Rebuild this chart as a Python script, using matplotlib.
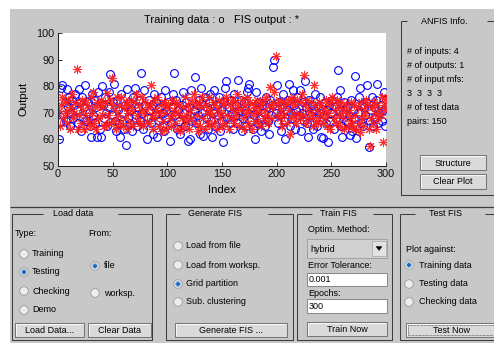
import matplotlib
matplotlib.use("Agg")
import matplotlib.pyplot as plt
from matplotlib.patches import Rectangle, Circle, Polygon
import numpy as np

plt.rcParams['font.family'] = ['Liberation Sans', 'DejaVu Sans']

# ---------------- data ----------------
training_data = [
    60, 66.5, 79.5, 80.5, 69, 74, 67, 79, 72, 76, 65, 70, 75, 68, 73, 77, 71, 66, 79, 74,
    63, 76, 68, 72, 80.3, 67, 74, 70, 65, 61, 77, 69, 75, 66, 72, 61, 78, 64, 61, 80,
    73, 68, 76, 70, 65, 72, 78, 84.5, 69, 74, 81, 67, 63, 75, 71, 66, 61, 77, 70, 64,
    73, 58, 79, 68, 74, 66, 71, 63, 76, 79.5, 69, 65, 72, 75, 67, 85, 70, 64, 78.5, 73,
    60.3, 68, 75, 71, 66, 73, 62, 77, 69, 74, 61, 67, 72, 76, 65, 70, 63, 78.5, 71, 68,
    74, 59.4, 66, 72, 77, 85, 69, 75, 64, 71, 67, 62, 73, 78, 70, 65, 74, 68, 59.4, 72,
    60, 78.7, 67, 71, 83.5, 66, 73, 69, 75, 62, 79.5, 70, 61.3, 76, 68, 72, 64, 74, 77, 67,
    61, 70, 78.5, 65, 73, 69, 76, 63, 71, 67, 59, 74, 79.5, 82, 68, 72, 66, 75, 70, 64,
    77, 69, 73, 66, 82.5, 71, 75, 63, 68, 74, 70, 65, 78, 79.5, 80.7, 67, 72, 64, 69, 60.3,
    77.8, 71, 66, 74, 68, 63, 73, 70, 65, 76, 72, 67, 62, 75, 69, 73, 87.2, 89.7, 70, 80.3,
    66, 74, 69, 63, 72, 77, 67, 60.3, 71, 75, 81, 65, 70, 68, 78.4, 73, 64, 71, 76, 69,
    78.7, 63, 70, 74, 67, 82, 72, 66, 61, 75, 69, 73, 64, 71, 77, 68, 65, 72, 70, 76,
    61, 60.4, 69, 74, 66, 71, 59, 73, 67, 70, 75, 64, 72, 68, 76, 86, 71, 78.5, 65, 61,
    70, 74, 67, 72, 66, 69, 61.5, 75, 63, 71, 68, 83.7, 60.7, 70, 76, 79.5, 66, 73, 65, 72,
    69, 74, 80.3, 57.1, 67, 71, 76, 65, 72, 68, 75, 80.7, 66, 70, 73, 67, 71, 77.8, 65, 75.3,
]
fis_output = [
    70.5, 65, 73, 76, 68, 74, 70, 66, 75, 71, 64, 72, 77, 68, 70, 74, 86.6, 64, 69, 73,
    66, 75, 71, 64, 69, 74, 67, 72, 65, 76, 70, 78, 66, 72, 64, 74, 68, 73, 75, 69,
    72, 65, 74, 65.5, 77.5, 69, 66, 75, 83, 73, 67, 71, 64, 76, 69, 73, 66, 76, 65, 72,
    68, 74, 64, 70, 73, 66, 75, 71, 65, 74, 77, 69, 67, 73, 66, 71, 76, 65, 70, 74,
    67, 72, 66, 73, 80.5, 69, 64, 75, 68, 71, 76, 65, 70, 73, 63, 67, 74, 70, 64, 72,
    73, 68, 65, 75, 69, 71, 66, 74, 64, 70, 73, 63, 68, 72, 65, 76, 69, 67, 73, 64,
    71, 68, 75, 77, 66, 73, 69, 63, 74, 65, 72, 76, 68, 64, 73, 70, 66, 76, 71, 65,
    69, 74, 66, 73, 64, 71, 75, 68, 70, 65, 73, 74, 66, 76, 69, 64, 73, 68, 75, 71,
    66, 74, 69, 77, 72, 65, 71, 75, 68, 64, 73, 70, 76, 66, 71, 74, 64, 69, 73, 67,
    71, 75, 66, 70, 73, 65, 74, 68, 71, 76, 69, 66, 73, 79.7, 68, 72, 74, 78, 91.4, 69,
    73, 75, 68, 71, 65, 74, 69, 73, 66, 75, 71, 62, 68, 74, 76, 69, 73, 66, 75, 70,
    68, 74, 77, 69, 84.2, 73, 66, 75, 71, 68, 74, 69, 65, 80.3, 73, 67, 71, 66, 74, 69,
    73, 66, 71, 68, 75, 65, 70, 73, 64, 74, 76, 68, 71, 66, 75, 73, 69, 65, 74, 71,
    68, 64, 73, 70, 65, 71, 68, 74, 66, 64, 73, 69, 64, 72, 66, 62.8, 74, 68, 65, 71,
    69, 75, 73, 64, 57.5, 68, 72, 66, 74, 70, 64, 73, 68, 71, 69, 76, 59, 73, 71, 75.3,
]
index = np.arange(1, len(training_data) + 1)

x_ticks = [0, 50, 100, 150, 200, 250, 300]
y_ticks = [50, 60, 70, 80, 90, 100]
title_text = "Training data : o   FIS output : *"
x_label = "Index"
y_label = "Output"
info_lines = ["# of inputs: 4", "# of outputs: 1", "# of input mfs:",
              "3  3  3  3", "# of test data", "pairs: 150"]

# ---------------- figure / GUI background ----------------
W, H = 494, 343
fig = plt.figure(figsize=(W / 100, H / 100), dpi=100, facecolor='white')
bg = fig.add_axes([0, 0, 1, 1])
bg.set_xlim(0, W)
bg.set_ylim(H, 0)
bg.axis('off')

GRAY = '#c8c8c8'
DARK = '#3c3c3c'
FS = 6.5
bg.add_patch(Rectangle((10, 9), W - 10, H - 9, facecolor=GRAY, edgecolor='none'))


def line(xs, ys, color=DARK, lw=0.75):
    bg.plot(xs, ys, color=color, lw=lw, solid_capstyle='butt')


def frame(x0, y0, x1, y1, g0, g1, title, tx):
    line([x0, x0, x1, x1], [y0, y1, y1, y0])
    line([x0, g0], [y0, y0])
    line([g1, x1], [y0, y0])
    bg.text(tx, y0, title, ha='center', va='center', fontsize=FS)


def button(x0, y0, x1, y1, label, focus=False):
    bg.add_patch(Rectangle((x0, y0), x1 - x0, y1 - y0, facecolor='#dadada',
                           edgecolor='#777777', lw=0.75))
    line([x0 + 1, x0 + 1, x1 - 1], [y1 - 1, y0 + 1, y0 + 1], color='white', lw=0.6)
    if focus:
        bg.add_patch(Rectangle((x0 + 2, y0 + 2), x1 - x0 - 4, y1 - y0 - 4,
                               facecolor='none', edgecolor='#333333', lw=0.5,
                               linestyle=(0, (1, 1))))
    bg.text((x0 + x1) / 2, (y0 + y1) / 2 + 0.5, label, ha='center', va='center', fontsize=FS)


def radio(cx, cy, label, selected=False, lx=8):
    bg.add_patch(Circle((cx, cy), 4.3, facecolor='#ededed', edgecolor='#9a9a9a', lw=0.6))
    if selected:
        bg.add_patch(Circle((cx, cy), 2.3, facecolor='#1e64b4', edgecolor='#80b4e6', lw=0.7))
    bg.text(cx + lx, cy, label, ha='left', va='center', fontsize=FS)


def editbox(x0, y0, x1, y1, text):
    bg.add_patch(Rectangle((x0, y0), x1 - x0, y1 - y0, facecolor='white',
                           edgecolor='#8a8a8a', lw=0.75))
    bg.text(x0 + 2, (y0 + y1) / 2 + 0.5, text, ha='left', va='center', fontsize=FS)


# separator line
line([10, W], [207, 207], lw=0.9)

# ANFIS info panel
frame(401, 21, 496, 195, 407, 487, "ANFIS Info.", 444)
for i, t in enumerate(info_lines):
    bg.text(407, 52 + 13.8 * i, t, ha='left', va='center', fontsize=6.5)
button(420, 155, 486, 170, "Structure")
button(420, 174, 486, 189, "Clear Plot")

# Load data panel
frame(12, 214, 152, 340, 43, 118, "Load data", 73)
bg.text(15, 233, "Type:", ha='left', va='center', fontsize=FS)
bg.text(88, 233, "From:", ha='left', va='center', fontsize=FS)
radio(24, 254, "Training")
radio(24, 272, "Testing", selected=True)
radio(24, 291, "Checking")
radio(24, 310, "Demo")
radio(95, 266, "file", selected=True, lx=9)
radio(95, 293, "worksp.", lx=9)
button(15, 323, 84, 337, "Load Data...")
button(88, 323, 151, 337, "Clear Data")

# Generate FIS panel
frame(166, 214, 293, 340, 180, 268, "Generate FIS", 215)
radio(178, 246, "Load from file")
radio(178, 265, "Load from worksp.")
radio(178, 284, "Grid partition", selected=True)
radio(178, 302, "Sub. clustering")
button(175, 323, 287, 337, "Generate FIS ...")

# Train FIS panel
frame(297, 214, 392, 340, 312, 373, "Train FIS", 338)
bg.text(308, 229, "Optim. Method:", ha='left', va='center', fontsize=FS)
bg.add_patch(Rectangle((307, 239), 80, 19, facecolor='#d0d0d0', edgecolor='#9a9a9a', lw=0.6))
bg.add_patch(Rectangle((372, 241), 14, 15, facecolor='#e2e2e2', edgecolor='#a8a8a8', lw=0.5))
bg.add_patch(Polygon([[376, 246.5], [382, 246.5], [379, 250.5]], closed=True,
                     facecolor='black', edgecolor='black', lw=0.3))
bg.text(310, 249, "hybrid", ha='left', va='center', fontsize=FS)
bg.text(308, 265, "Error Tolerance:", ha='left', va='center', fontsize=FS)
editbox(307, 273, 387, 286, "0.001")
bg.text(308, 294, "Epochs:", ha='left', va='center', fontsize=FS)
editbox(307, 299, 387, 313, "300")
button(307, 322, 387, 336, "Train Now")

# Test FIS panel
frame(400, 214, 496, 340, 415, 485, "Test FIS", 445)
bg.text(406, 249, "Plot against:", ha='left', va='center', fontsize=FS)
radio(409, 265, "Training data", selected=True, lx=10)
radio(409, 284, "Testing data", lx=10)
radio(409, 302, "Checking data", lx=10)
button(406, 323, 496, 337, "Test Now", focus=True)

# ---------------- data axes ----------------
ax = fig.add_axes([58 / W, 1 - 166 / H, 328 / W, 133 / H])
ax.set_facecolor('white')
ax.plot(index, training_data, ls='none', marker='o', mfc='none', mec='blue',
        ms=5.6, mew=0.8)
ax.plot(index, fis_output, ls='none', marker=(8, 2, 0), mec='#ff1a1a', mfc='#ff1a1a',
        ms=6.6, mew=0.75, alpha=0.9)
ax.set_xlim(0, 300)
ax.set_ylim(50, 100)
ax.set_xticks(x_ticks)
ax.set_yticks(y_ticks)
ax.spines['top'].set_visible(False)
ax.spines['right'].set_visible(False)
for s in ('left', 'bottom'):
    ax.spines[s].set_color('#222222')
    ax.spines[s].set_linewidth(0.75)
ax.tick_params(direction='in', length=3, width=0.6, labelsize=7.8, pad=2.5,
               colors='#111111')

bg.text(222, 20, title_text, ha='center', va='center', fontsize=8)
bg.text(23, 99, y_label, ha='center', va='center', rotation=90, fontsize=8.2)
bg.text(222, 190, x_label, ha='center', va='center', fontsize=8.2)

fig.savefig("out.png", dpi=100, facecolor='white')
